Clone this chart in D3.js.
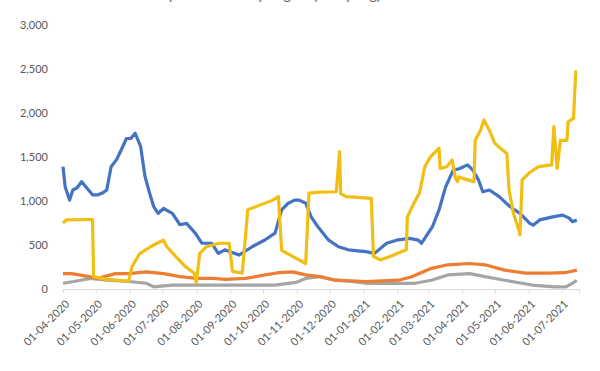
<!DOCTYPE html>
<html>
<head>
<meta charset="utf-8">
<script src="https://cdn.jsdelivr.net/npm/d3@7"></script>
<style>
  body { margin: 0; background: #fff; }
  svg { display: block; font-family: Lato, "Open Sans", sans-serif; }
</style>
</head>
<body>
<script>
// series values: [date, value]
const blue = [
    ['2020-04-01', 1390], ['2020-04-03', 1160], ['2020-04-07', 1010], ['2020-04-10', 1125],
    ['2020-04-14', 1150], ['2020-04-18', 1220], ['2020-04-22', 1160], ['2020-04-28', 1070],
    ['2020-05-03', 1070], ['2020-05-07', 1090], ['2020-05-11', 1125], ['2020-05-15', 1390],
    ['2020-05-20', 1470], ['2020-05-25', 1600], ['2020-05-29', 1710], ['2020-06-02', 1710],
    ['2020-06-06', 1770], ['2020-06-11', 1620], ['2020-06-15', 1280], ['2020-06-19', 1100],
    ['2020-06-23', 935], ['2020-06-27', 860], ['2020-07-02', 915], ['2020-07-10', 860],
    ['2020-07-17', 730], ['2020-07-23', 745], ['2020-07-31', 635], ['2020-08-06', 520],
    ['2020-08-15', 520], ['2020-08-21', 405], ['2020-08-27', 445], ['2020-09-09', 385],
    ['2020-09-21', 480], ['2020-10-03', 560], ['2020-10-12', 635], ['2020-10-18', 900],
    ['2020-10-24', 975], ['2020-10-30', 1010], ['2020-11-03', 1010], ['2020-11-09', 975],
    ['2020-11-14', 820], ['2020-11-20', 710], ['2020-11-30', 555], ['2020-12-09', 480],
    ['2020-12-18', 445], ['2021-01-03', 425], ['2021-01-11', 405], ['2021-01-22', 520],
    ['2021-01-31', 555], ['2021-02-12', 575], ['2021-02-20', 555], ['2021-02-23', 520],
    ['2021-03-05', 710], ['2021-03-11', 900], ['2021-03-17', 1160], ['2021-03-24', 1350],
    ['2021-03-30', 1370], ['2021-04-06', 1410], ['2021-04-11', 1350], ['2021-04-16', 1240],
    ['2021-04-20', 1105], ['2021-04-26', 1125], ['2021-05-05', 1050], ['2021-05-15', 935],
    ['2021-05-24', 860], ['2021-06-02', 745], ['2021-06-05', 725], ['2021-06-11', 785],
    ['2021-06-23', 820], ['2021-07-02', 840], ['2021-07-08', 805], ['2021-07-11', 765],
    ['2021-07-15', 785]
];

const orange = [
    ['2020-04-01', 175], ['2020-04-09', 175], ['2020-04-25', 140], ['2020-05-02', 120],
    ['2020-05-19', 175], ['2020-05-31', 175], ['2020-06-16', 195], ['2020-07-02', 175],
    ['2020-07-17', 140], ['2020-08-01', 120], ['2020-08-16', 120], ['2020-08-28', 110],
    ['2020-09-15', 120], ['2020-10-03', 160], ['2020-10-15', 185], ['2020-10-28', 195],
    ['2020-11-09', 160], ['2020-11-22', 140], ['2020-12-06', 100], ['2021-01-03', 85],
    ['2021-02-02', 100], ['2021-02-14', 140], ['2021-03-04', 235], ['2021-03-19', 275],
    ['2021-04-08', 290], ['2021-04-22', 275], ['2021-05-10', 215], ['2021-05-29', 180],
    ['2021-06-19', 180], ['2021-07-04', 185], ['2021-07-15', 215]
];

const gray = [
    ['2020-04-01', 65], ['2020-04-11', 85], ['2020-04-26', 120], ['2020-05-11', 100],
    ['2020-05-31', 85], ['2020-06-16', 65], ['2020-06-23', 25], ['2020-07-10', 45],
    ['2020-08-15', 45], ['2020-09-15', 45], ['2020-10-12', 45], ['2020-10-31', 75],
    ['2020-11-09', 120], ['2020-11-22', 140], ['2020-12-06', 100], ['2020-12-21', 85],
    ['2021-01-03', 65], ['2021-02-02', 65], ['2021-02-17', 65], ['2021-03-04', 100],
    ['2021-03-19', 160], ['2021-04-08', 175], ['2021-04-22', 140], ['2021-05-10', 100],
    ['2021-06-04', 45], ['2021-06-25', 25], ['2021-07-05', 25], ['2021-07-11', 65],
    ['2021-07-15', 100]
];

const yellow = [
    ['2020-04-01', 750], ['2020-04-04', 785], ['2020-04-27', 790], ['2020-04-28', 790],
    ['2020-04-29', 140], ['2020-05-11', 110], ['2020-05-31', 90], ['2020-06-03', 250],
    ['2020-06-10', 400], ['2020-06-20', 480], ['2020-06-26', 520], ['2020-07-02', 555],
    ['2020-07-05', 480], ['2020-07-13', 370], ['2020-07-22', 255], ['2020-07-30', 180],
    ['2020-08-01', 70], ['2020-08-04', 405], ['2020-08-10', 480], ['2020-08-22', 520],
    ['2020-08-31', 520], ['2020-09-03', 200], ['2020-09-12', 180], ['2020-09-17', 900],
    ['2020-10-10', 1010], ['2020-10-15', 1050], ['2020-10-18', 440], ['2020-10-28', 370],
    ['2020-11-09', 290], ['2020-11-12', 1090], ['2020-11-22', 1100], ['2020-12-07', 1105],
    ['2020-12-10', 1560], ['2020-12-11', 1085], ['2020-12-16', 1050], ['2021-01-08', 1030],
    ['2021-01-10', 370], ['2021-01-16', 330], ['2021-01-25', 370], ['2021-02-09', 445],
    ['2021-02-10', 820], ['2021-02-16', 975], ['2021-02-21', 1090], ['2021-02-26', 1390],
    ['2021-03-03', 1500], ['2021-03-11', 1600], ['2021-03-12', 1370], ['2021-03-18', 1390],
    ['2021-03-23', 1465], ['2021-03-26', 1260], ['2021-03-28', 1220], ['2021-03-29', 1275],
    ['2021-04-01', 1260], ['2021-04-12', 1220], ['2021-04-13', 1690], ['2021-04-18', 1805],
    ['2021-04-21', 1920], ['2021-04-26', 1805], ['2021-05-01', 1655], ['2021-05-08', 1580],
    ['2021-05-12', 1540], ['2021-05-14', 1125], ['2021-05-18', 860], ['2021-05-23', 670],
    ['2021-05-24', 615], ['2021-05-26', 1240], ['2021-06-01', 1315], ['2021-06-10', 1390],
    ['2021-06-22', 1410], ['2021-06-24', 1845], ['2021-06-27', 1370], ['2021-06-30', 1690],
    ['2021-07-06', 1690], ['2021-07-07', 1900], ['2021-07-12', 1940], ['2021-07-14', 2470],
    ['2021-07-15', 2470]
];

const yTicks = [0, 500, 1000, 1500, 2000, 2500, 3000];

const series = [
    { data: gray, color: '#A5A5A5' },
    { data: orange, color: '#ED7D31' },
    { data: blue, color: '#4472C4' },
    { data: yellow, color: '#F2BE12' }
];

const width = 600;
const height = 371;
const padding = {
    top: 25,
    left: 63,
    right: 21,
    bottom: 82
};

const parse = d3.timeParse('%Y-%m-%d');
const fmt = d3.timeFormat('%d-%m-%Y');

const svg = d3.select('body')
    .append('svg')
    .attr('width', width)
    .attr('height', height);

const xScale = d3.scaleTime()
    .domain([parse('2020-04-01'), parse('2021-07-17')])
    .range([padding.left, width - padding.right]);

const yScale = d3.scaleLinear()
    .domain([0, 3000])
    .range([height - padding.bottom, padding.top]);

// title, mostly cut off at the top edge like the reference
svg.append('text')
    .attr('x', 262)
    .attr('y', 0)
    .attr('text-anchor', 'middle')
    .attr('fill', '#595959')
    .attr('font-size', 14)
    .text('Daily New Cases by Region (7-day avg)');

// y axis labels (no axis line)
svg.append('g')
    .selectAll('text')
    .data(yTicks)
    .enter()
    .append('text')
    .attr('x', 48)
    .attr('y', d => yScale(d))
    .attr('dy', '0.35em')
    .attr('text-anchor', 'end')
    .attr('fill', '#595959')
    .attr('font-size', 11)
    .text(d3.format(','));

// x axis
const months = d3.timeMonth.range(parse('2020-04-01'), parse('2021-07-02'));

const xAxis = d3.axisBottom(xScale)
    .tickValues(months)
    .tickSize(4)
    .tickFormat(fmt);

const gx = svg.append('g')
    .attr('transform', 'translate(0,' + yScale(0) + ')')
    .call(xAxis);

gx.select('.domain').attr('stroke', '#D9D9D9').attr('stroke-width', 1);
gx.selectAll('.tick line').attr('stroke', '#D9D9D9');
gx.selectAll('.tick text')
    .attr('fill', '#595959')
    .attr('font-size', 11)
    .attr('font-family', 'Lato, sans-serif')
    .attr('text-anchor', 'end')
    .attr('y', 0)
    .attr('dy', '0.35em')
    .attr('transform', 'translate(4,13) rotate(-45)');

const line = d3.line()
    .x(d => xScale(parse(d[0])))
    .y(d => yScale(d[1]));

svg.append('g')
    .selectAll('path')
    .data(series)
    .enter()
    .append('path')
    .attr('fill', 'none')
    .attr('stroke', d => d.color)
    .attr('stroke-width', 3.2)
    .attr('stroke-linejoin', 'round')
    .attr('d', d => line(d.data));
</script>
</body>
</html>
